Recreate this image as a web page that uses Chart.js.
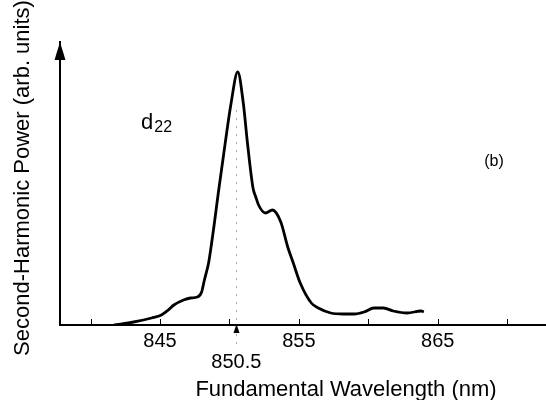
<!DOCTYPE html>
<html>
<head>
<meta charset="utf-8">
<script src="https://cdn.jsdelivr.net/npm/chart.js@4.4.1/dist/chart.umd.min.js"></script>
<style>
  html, body { margin: 0; padding: 0; background: #fff; }
  #wrap { width: 546px; height: 400px; }
</style>
</head>
<body>
<div id="wrap"><canvas id="c" width="546" height="400"></canvas></div>
<script>
// Fundamental wavelength (nm) and second-harmonic power (arb. units)
const wavelengths = [841.7, 843.1, 844.4, 845.1, 845.6, 846.0, 846.7, 847.2, 847.7, 848.0, 848.2, 848.5, 848.7, 848.9, 849.2, 849.5, 849.8, 850.1, 850.6, 851.0, 851.3, 851.7, 851.9, 852.1, 852.6, 853.1, 853.7, 854.2, 854.6, 855.1, 855.9, 856.4, 857.3, 858.2, 859.0, 859.7, 860.4, 861.1, 861.8, 862.8, 863.8, 864.0];
const power = [0, 3, 7, 10, 15, 20, 25, 27, 28, 33, 45, 62, 80, 100, 132, 162, 192, 220, 253, 222, 182, 137, 128, 120, 112, 115, 103, 78, 62, 42, 22, 17, 12, 11, 11, 13, 17, 17, 14, 12, 14, 13];
const tickValues = [840, 845, 850, 850.5, 855, 860, 865, 870];
const tickLabels = ['', '845', '', ['', '850.5'], '855', '', '865', ''];
const markTicks = [840, 845, 850, 855, 860, 865, 870];
const markedWavelength = 850.5;
const xTitle = 'Fundamental Wavelength (nm)';
const yTitle = 'Second-Harmonic Power (arb. units)';
const curveLabel = 'd';
const curveLabelSub = '22';
const panelLabel = '(b)';

const FONT = '"Liberation Sans", Arial, Helvetica, sans-serif';

const decor = {
  id: 'decor',
  afterDraw(chart) {
    const ctx = chart.ctx;
    const xs = chart.scales.x, ys = chart.scales.y;
    const ca = chart.chartArea;
    const y0 = ys.getPixelForValue(0);
    ctx.save();
    // inward tick marks
    ctx.strokeStyle = '#000';
    ctx.lineWidth = 1;
    markTicks.forEach(v => {
      const px = Math.round(xs.getPixelForValue(v)) + 0.5;
      ctx.beginPath(); ctx.moveTo(px, y0); ctx.lineTo(px, y0 - 6); ctx.stroke();
    });
    // dotted marker line at 850.5
    const mx = Math.round(xs.getPixelForValue(markedWavelength)) + 0.5;
    ctx.strokeStyle = '#aaa';
    ctx.setLineDash([2, 6]);
    ctx.beginPath(); ctx.moveTo(mx, 110); ctx.lineTo(mx, 346); ctx.stroke();
    ctx.setLineDash([]);
    // small arrow marker below axis
    ctx.fillStyle = '#000';
    ctx.beginPath();
    ctx.moveTo(mx, y0 - 1); ctx.lineTo(mx + 3, y0 + 8); ctx.lineTo(mx - 3, y0 + 8); ctx.closePath();
    ctx.fill();
    // arrowhead on y axis
    const ax = ca.left;
    ctx.beginPath();
    ctx.moveTo(ax, ca.top); ctx.lineTo(ax + 5.5, ca.top + 18); ctx.lineTo(ax - 5.5, ca.top + 18); ctx.closePath();
    ctx.fill();
    // axis titles
    ctx.fillStyle = '#000';
    ctx.textAlign = 'center';
    ctx.textBaseline = 'middle';
    ctx.font = '22px ' + FONT;
    ctx.fillText(xTitle, 346, 390);
    ctx.save();
    ctx.translate(23, 178);
    ctx.rotate(-Math.PI / 2);
    ctx.fillText(yTitle, 0, 0);
    ctx.restore();
    // curve label d22
    ctx.textAlign = 'left';
    ctx.textBaseline = 'alphabetic';
    ctx.font = '22px ' + FONT;
    ctx.fillText(curveLabel, 141, 129);
    const dw = ctx.measureText(curveLabel).width;
    ctx.font = '16px ' + FONT;
    ctx.fillText(curveLabelSub, 141 + dw + 1, 132);
    // panel label
    ctx.textAlign = 'center';
    ctx.textBaseline = 'middle';
    ctx.font = '16px ' + FONT;
    ctx.fillText(panelLabel, 494, 162);
    ctx.restore();
  }
};

new Chart(document.getElementById('c'), {
  type: 'line',
  data: {
    datasets: [{
      data: wavelengths.map((w, i) => ({ x: w, y: power[i] })),
      borderColor: '#000',
      borderWidth: 2.8,
      pointRadius: 0,
      cubicInterpolationMode: 'monotone',
      fill: false
    }]
  },
  options: {
    responsive: false,
    animation: false,
    events: [],
    layout: { padding: { top: 42, right: 0, left: 0, bottom: 0 } },
    plugins: { legend: { display: false }, tooltip: { enabled: false } },
    scales: {
      x: {
        type: 'linear',
        min: 837.8,
        max: 872.8,
        afterFit: s => { s.height = 75; },
        afterBuildTicks: s => { s.ticks = tickValues.map(v => ({ value: v })); },
        grid: { display: false, drawTicks: false },
        border: { display: true, color: '#000', width: 2 },
        ticks: {
          autoSkip: false,
          maxRotation: 0,
          padding: 6,
          color: '#000',
          font: { family: FONT, size: 20, lineHeight: 1.05 },
          callback: (v, i) => tickLabels[i]
        }
      },
      y: {
        type: 'linear',
        min: 0,
        max: 283,
        afterFit: s => { s.width = 60; },
        grid: { display: false, drawTicks: false },
        border: { display: true, color: '#000', width: 2 },
        ticks: { display: false }
      }
    }
  },
  plugins: [decor]
});
</script>
</body>
</html>
